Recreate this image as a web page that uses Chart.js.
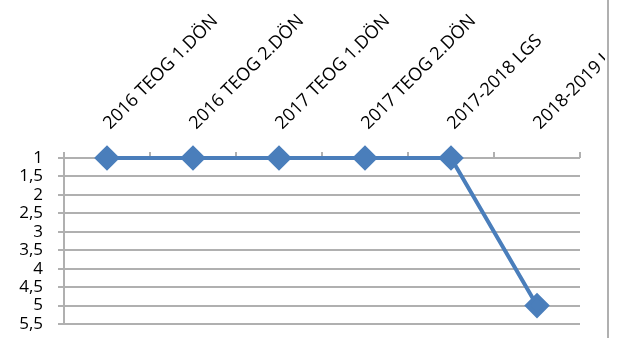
<!DOCTYPE html>
<html>
<head>
<meta charset="utf-8">
<script src="https://cdn.jsdelivr.net/npm/chart.js@4"></script>
<style>
  body { margin: 0; background: #fff; }
  #wrap { position: relative; width: 622px; height: 338px; }
  #graph { position: absolute; left: 0; top: 0; }
  #edge { position: absolute; left: 607px; top: 0; width: 2px; height: 338px; background: #b0b0b0; }
</style>
</head>
<body>
<div id="wrap">
  <canvas id="graph" width="605" height="338"></canvas>
  <div id="edge"></div>
</div>
<script>
var labels = ["2016 TEOG 1.DÖN", "2016 TEOG 2.DÖN", "2017 TEOG 1.DÖN",
  "2017 TEOG 2.DÖN", "2017-2018 LGS", "2018-2019 LGS"];
var values = [1, 1, 1, 1, 1, 5];
var yTicks = [1, 1.5, 2, 2.5, 3, 3.5, 4, 4.5, 5, 5.5];

var ctx = document.getElementById("graph").getContext('2d');

var chartData = {
  labels: labels,
  datasets: [{
    label: 'Sıra',
    data: values,
    borderColor: '#4a7ebb',
    backgroundColor: '#4a7ebb',
    borderWidth: 4,
    pointStyle: 'rectRot',
    pointRadius: 10,
    pointHoverRadius: 10,
    tension: 0,
    clip: false
  }]
};

var myChart = new Chart(ctx, {
  type: 'line',
  data: chartData,
  options: {
    responsive: false,
    animation: false,
    layout: { padding: { left: 0, right: 25, top: 0, bottom: 13 } },
    plugins: { legend: { display: false }, tooltip: { enabled: false } },
    scales: {
      x: {
        position: 'top',
        offset: true,
        grid: { offset: true, drawOnChartArea: false, drawTicks: true, tickLength: 6, color: '#b0b0b0', lineWidth: 2 },
        border: { display: false },
        ticks: {
          minRotation: 45, maxRotation: 45, autoSkip: false, padding: 18, labelOffset: 15,
          color: '#000', font: { family: 'Open Sans', size: 18 }
        },
        afterFit: function (s) { s.height = 158; s.paddingLeft = 0; s.paddingRight = 0; }
      },
      y: {
        reverse: true,
        min: 1,
        max: 5.5,
        afterBuildTicks: function (s) { s.ticks = yTicks.map(function (v) { return { value: v }; }); },
        grid: { color: '#b0b0b0', lineWidth: 2, tickLength: 6 },
        border: { color: '#b0b0b0', width: 2 },
        ticks: {
          autoSkip: false,
          padding: 15,
          color: '#000',
          font: { family: 'Open Sans', size: 17, lineHeight: 1 },
          callback: function (v) { return String(v).replace('.', ','); }
        },
        afterFit: function (s) { s.width = 64; s.paddingTop = 0; s.paddingBottom = 0; }
      }
    }
  }
});
</script>
</body>
</html>
